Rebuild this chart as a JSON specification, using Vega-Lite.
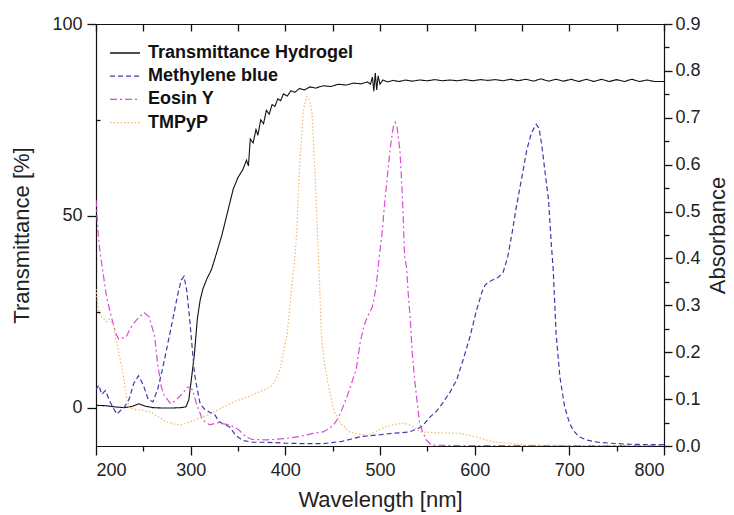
{
  "$schema": "https://vega.github.io/schema/vega-lite/v6.json",
  "autosize": "none",
  "padding": {"left": 96, "top": 24, "right": 70, "bottom": 69},
  "width": 568,
  "height": 422,
  "background": "white",
  "config": {
    "view": {"stroke": "black", "strokeWidth": 1},
    "font": "Liberation Sans",
    "axis": {
      "grid": false,
      "domainColor": "#111",
      "tickColor": "#111",
      "labelColor": "#222",
      "titleColor": "#222",
      "labelFont": "Liberation Sans",
      "titleFont": "Liberation Sans",
      "labelFontSize": 18,
      "titleFontSize": 22,
      "titleFontWeight": "normal",
      "tickWidth": 1.3,
      "domainWidth": 1.2
    },
    "legend": {
      "labelFont": "Liberation Sans",
      "labelFontSize": 18,
      "labelFontWeight": "bold",
      "labelColor": "#111",
      "labelLimit": 400,
      "symbolType": "M-1.36,0H1.36",
      "symbolSize": 484,
      "symbolStrokeWidth": 1.3,
      "labelOffset": 11,
      "rowPadding": 2.2,
      "padding": 0,
      "offset": 17
    }
  },
  "datasets": {
    "spectra": [
      {"series": "Transmittance Hydrogel", "wl": 200, "val": 0.6},
      {"series": "Transmittance Hydrogel", "wl": 210, "val": 0.5},
      {"series": "Transmittance Hydrogel", "wl": 220, "val": 0.2},
      {"series": "Transmittance Hydrogel", "wl": 230, "val": 0.0},
      {"series": "Transmittance Hydrogel", "wl": 238, "val": 0.3},
      {"series": "Transmittance Hydrogel", "wl": 245, "val": 1.0},
      {"series": "Transmittance Hydrogel", "wl": 252, "val": 0.4},
      {"series": "Transmittance Hydrogel", "wl": 260, "val": 0.0},
      {"series": "Transmittance Hydrogel", "wl": 270, "val": -0.1},
      {"series": "Transmittance Hydrogel", "wl": 280, "val": -0.1},
      {"series": "Transmittance Hydrogel", "wl": 290, "val": 0.0},
      {"series": "Transmittance Hydrogel", "wl": 295, "val": 0.2},
      {"series": "Transmittance Hydrogel", "wl": 298, "val": 2.0},
      {"series": "Transmittance Hydrogel", "wl": 300, "val": 5.9},
      {"series": "Transmittance Hydrogel", "wl": 304, "val": 14},
      {"series": "Transmittance Hydrogel", "wl": 307, "val": 23},
      {"series": "Transmittance Hydrogel", "wl": 310, "val": 28},
      {"series": "Transmittance Hydrogel", "wl": 313, "val": 31},
      {"series": "Transmittance Hydrogel", "wl": 317, "val": 33.5},
      {"series": "Transmittance Hydrogel", "wl": 322, "val": 36},
      {"series": "Transmittance Hydrogel", "wl": 327, "val": 40},
      {"series": "Transmittance Hydrogel", "wl": 333, "val": 45},
      {"series": "Transmittance Hydrogel", "wl": 340, "val": 52},
      {"series": "Transmittance Hydrogel", "wl": 345, "val": 57},
      {"series": "Transmittance Hydrogel", "wl": 350, "val": 60},
      {"series": "Transmittance Hydrogel", "wl": 355, "val": 62},
      {"series": "Transmittance Hydrogel", "wl": 359, "val": 64.5},
      {"series": "Transmittance Hydrogel", "wl": 361, "val": 63},
      {"series": "Transmittance Hydrogel", "wl": 363, "val": 70},
      {"series": "Transmittance Hydrogel", "wl": 366, "val": 69},
      {"series": "Transmittance Hydrogel", "wl": 369, "val": 72.5},
      {"series": "Transmittance Hydrogel", "wl": 371, "val": 71},
      {"series": "Transmittance Hydrogel", "wl": 374, "val": 75},
      {"series": "Transmittance Hydrogel", "wl": 377, "val": 74},
      {"series": "Transmittance Hydrogel", "wl": 380, "val": 77.5},
      {"series": "Transmittance Hydrogel", "wl": 383, "val": 76.5},
      {"series": "Transmittance Hydrogel", "wl": 386, "val": 79},
      {"series": "Transmittance Hydrogel", "wl": 389, "val": 78.5},
      {"series": "Transmittance Hydrogel", "wl": 392, "val": 80.5},
      {"series": "Transmittance Hydrogel", "wl": 395, "val": 80},
      {"series": "Transmittance Hydrogel", "wl": 398, "val": 81.8},
      {"series": "Transmittance Hydrogel", "wl": 402, "val": 81.2},
      {"series": "Transmittance Hydrogel", "wl": 406, "val": 82.6},
      {"series": "Transmittance Hydrogel", "wl": 410, "val": 82.2},
      {"series": "Transmittance Hydrogel", "wl": 415, "val": 83.2},
      {"series": "Transmittance Hydrogel", "wl": 420, "val": 82.8},
      {"series": "Transmittance Hydrogel", "wl": 426, "val": 83.6},
      {"series": "Transmittance Hydrogel", "wl": 432, "val": 83.3},
      {"series": "Transmittance Hydrogel", "wl": 440, "val": 83.9},
      {"series": "Transmittance Hydrogel", "wl": 448, "val": 83.7},
      {"series": "Transmittance Hydrogel", "wl": 456, "val": 84.3},
      {"series": "Transmittance Hydrogel", "wl": 464, "val": 84.1},
      {"series": "Transmittance Hydrogel", "wl": 472, "val": 84.6},
      {"series": "Transmittance Hydrogel", "wl": 480, "val": 84.4},
      {"series": "Transmittance Hydrogel", "wl": 487, "val": 84.9},
      {"series": "Transmittance Hydrogel", "wl": 490, "val": 84.3},
      {"series": "Transmittance Hydrogel", "wl": 492, "val": 86.2},
      {"series": "Transmittance Hydrogel", "wl": 493.5, "val": 82.5},
      {"series": "Transmittance Hydrogel", "wl": 495, "val": 87.2},
      {"series": "Transmittance Hydrogel", "wl": 496.5, "val": 82.8},
      {"series": "Transmittance Hydrogel", "wl": 498, "val": 86.5},
      {"series": "Transmittance Hydrogel", "wl": 500, "val": 84.3},
      {"series": "Transmittance Hydrogel", "wl": 503, "val": 85.4},
      {"series": "Transmittance Hydrogel", "wl": 508, "val": 84.9},
      {"series": "Transmittance Hydrogel", "wl": 514, "val": 85.3},
      {"series": "Transmittance Hydrogel", "wl": 520, "val": 85.0},
      {"series": "Transmittance Hydrogel", "wl": 527, "val": 85.4},
      {"series": "Transmittance Hydrogel", "wl": 534, "val": 85.1},
      {"series": "Transmittance Hydrogel", "wl": 542, "val": 85.4},
      {"series": "Transmittance Hydrogel", "wl": 550, "val": 85.2},
      {"series": "Transmittance Hydrogel", "wl": 558, "val": 85.5},
      {"series": "Transmittance Hydrogel", "wl": 566, "val": 85.2},
      {"series": "Transmittance Hydrogel", "wl": 574, "val": 85.4},
      {"series": "Transmittance Hydrogel", "wl": 582, "val": 85.2},
      {"series": "Transmittance Hydrogel", "wl": 590, "val": 85.5},
      {"series": "Transmittance Hydrogel", "wl": 598, "val": 85.2},
      {"series": "Transmittance Hydrogel", "wl": 606, "val": 85.5},
      {"series": "Transmittance Hydrogel", "wl": 614, "val": 85.3},
      {"series": "Transmittance Hydrogel", "wl": 622, "val": 85.5},
      {"series": "Transmittance Hydrogel", "wl": 630, "val": 85.2},
      {"series": "Transmittance Hydrogel", "wl": 638, "val": 85.6},
      {"series": "Transmittance Hydrogel", "wl": 646, "val": 85.2},
      {"series": "Transmittance Hydrogel", "wl": 654, "val": 85.6},
      {"series": "Transmittance Hydrogel", "wl": 662, "val": 85.1},
      {"series": "Transmittance Hydrogel", "wl": 670, "val": 85.7},
      {"series": "Transmittance Hydrogel", "wl": 678, "val": 85.1},
      {"series": "Transmittance Hydrogel", "wl": 686, "val": 85.6},
      {"series": "Transmittance Hydrogel", "wl": 694, "val": 85.1},
      {"series": "Transmittance Hydrogel", "wl": 702, "val": 85.6},
      {"series": "Transmittance Hydrogel", "wl": 710, "val": 85.0},
      {"series": "Transmittance Hydrogel", "wl": 718, "val": 85.6},
      {"series": "Transmittance Hydrogel", "wl": 726, "val": 85.0},
      {"series": "Transmittance Hydrogel", "wl": 734, "val": 85.6},
      {"series": "Transmittance Hydrogel", "wl": 742, "val": 85.0},
      {"series": "Transmittance Hydrogel", "wl": 750, "val": 85.5},
      {"series": "Transmittance Hydrogel", "wl": 758, "val": 85.0},
      {"series": "Transmittance Hydrogel", "wl": 766, "val": 85.6},
      {"series": "Transmittance Hydrogel", "wl": 774, "val": 85.0},
      {"series": "Transmittance Hydrogel", "wl": 782, "val": 85.4},
      {"series": "Transmittance Hydrogel", "wl": 790, "val": 85.0},
      {"series": "Transmittance Hydrogel", "wl": 800, "val": 85.0},

      {"series": "Methylene blue", "wl": 200, "val": 0.12},
      {"series": "Methylene blue", "wl": 203, "val": 0.13},
      {"series": "Methylene blue", "wl": 206, "val": 0.11},
      {"series": "Methylene blue", "wl": 210, "val": 0.118},
      {"series": "Methylene blue", "wl": 214, "val": 0.098},
      {"series": "Methylene blue", "wl": 218, "val": 0.082},
      {"series": "Methylene blue", "wl": 222, "val": 0.068},
      {"series": "Methylene blue", "wl": 226, "val": 0.076},
      {"series": "Methylene blue", "wl": 230, "val": 0.083},
      {"series": "Methylene blue", "wl": 235, "val": 0.1},
      {"series": "Methylene blue", "wl": 240, "val": 0.134},
      {"series": "Methylene blue", "wl": 245, "val": 0.15},
      {"series": "Methylene blue", "wl": 250, "val": 0.13},
      {"series": "Methylene blue", "wl": 255, "val": 0.1},
      {"series": "Methylene blue", "wl": 260, "val": 0.094},
      {"series": "Methylene blue", "wl": 265, "val": 0.12},
      {"series": "Methylene blue", "wl": 270, "val": 0.162},
      {"series": "Methylene blue", "wl": 275, "val": 0.21},
      {"series": "Methylene blue", "wl": 281, "val": 0.269},
      {"series": "Methylene blue", "wl": 286, "val": 0.32},
      {"series": "Methylene blue", "wl": 290, "val": 0.354},
      {"series": "Methylene blue", "wl": 293, "val": 0.362},
      {"series": "Methylene blue", "wl": 296, "val": 0.33},
      {"series": "Methylene blue", "wl": 299, "val": 0.269},
      {"series": "Methylene blue", "wl": 302, "val": 0.2},
      {"series": "Methylene blue", "wl": 304, "val": 0.156},
      {"series": "Methylene blue", "wl": 307, "val": 0.12},
      {"series": "Methylene blue", "wl": 310, "val": 0.09},
      {"series": "Methylene blue", "wl": 315, "val": 0.078},
      {"series": "Methylene blue", "wl": 320, "val": 0.072},
      {"series": "Methylene blue", "wl": 325, "val": 0.068},
      {"series": "Methylene blue", "wl": 330, "val": 0.052},
      {"series": "Methylene blue", "wl": 335, "val": 0.046},
      {"series": "Methylene blue", "wl": 341, "val": 0.041},
      {"series": "Methylene blue", "wl": 348, "val": 0.022},
      {"series": "Methylene blue", "wl": 355, "val": 0.012},
      {"series": "Methylene blue", "wl": 365, "val": 0.008},
      {"series": "Methylene blue", "wl": 380, "val": 0.008},
      {"series": "Methylene blue", "wl": 400, "val": 0.006},
      {"series": "Methylene blue", "wl": 420, "val": 0.005},
      {"series": "Methylene blue", "wl": 440, "val": 0.005},
      {"series": "Methylene blue", "wl": 460, "val": 0.01},
      {"series": "Methylene blue", "wl": 470, "val": 0.015},
      {"series": "Methylene blue", "wl": 480, "val": 0.02},
      {"series": "Methylene blue", "wl": 490, "val": 0.022},
      {"series": "Methylene blue", "wl": 500, "val": 0.024},
      {"series": "Methylene blue", "wl": 513, "val": 0.027},
      {"series": "Methylene blue", "wl": 522, "val": 0.028},
      {"series": "Methylene blue", "wl": 531, "val": 0.03},
      {"series": "Methylene blue", "wl": 540, "val": 0.037},
      {"series": "Methylene blue", "wl": 545, "val": 0.043},
      {"series": "Methylene blue", "wl": 553, "val": 0.062},
      {"series": "Methylene blue", "wl": 560, "val": 0.075},
      {"series": "Methylene blue", "wl": 566, "val": 0.091},
      {"series": "Methylene blue", "wl": 574, "val": 0.115},
      {"series": "Methylene blue", "wl": 581, "val": 0.141},
      {"series": "Methylene blue", "wl": 588, "val": 0.185},
      {"series": "Methylene blue", "wl": 595, "val": 0.233},
      {"series": "Methylene blue", "wl": 602, "val": 0.29},
      {"series": "Methylene blue", "wl": 608, "val": 0.33},
      {"series": "Methylene blue", "wl": 611, "val": 0.343},
      {"series": "Methylene blue", "wl": 615, "val": 0.35},
      {"series": "Methylene blue", "wl": 620, "val": 0.355},
      {"series": "Methylene blue", "wl": 625, "val": 0.36},
      {"series": "Methylene blue", "wl": 630, "val": 0.37},
      {"series": "Methylene blue", "wl": 635, "val": 0.404},
      {"series": "Methylene blue", "wl": 640, "val": 0.46},
      {"series": "Methylene blue", "wl": 644, "val": 0.51},
      {"series": "Methylene blue", "wl": 650, "val": 0.575},
      {"series": "Methylene blue", "wl": 655, "val": 0.631},
      {"series": "Methylene blue", "wl": 660, "val": 0.668},
      {"series": "Methylene blue", "wl": 665, "val": 0.686},
      {"series": "Methylene blue", "wl": 668, "val": 0.678},
      {"series": "Methylene blue", "wl": 671, "val": 0.64},
      {"series": "Methylene blue", "wl": 674, "val": 0.59},
      {"series": "Methylene blue", "wl": 678, "val": 0.525},
      {"series": "Methylene blue", "wl": 681, "val": 0.43},
      {"series": "Methylene blue", "wl": 683, "val": 0.375},
      {"series": "Methylene blue", "wl": 686, "val": 0.24},
      {"series": "Methylene blue", "wl": 690, "val": 0.148},
      {"series": "Methylene blue", "wl": 695, "val": 0.084},
      {"series": "Methylene blue", "wl": 700, "val": 0.05},
      {"series": "Methylene blue", "wl": 704, "val": 0.034},
      {"series": "Methylene blue", "wl": 710, "val": 0.02},
      {"series": "Methylene blue", "wl": 718, "val": 0.013},
      {"series": "Methylene blue", "wl": 730, "val": 0.008},
      {"series": "Methylene blue", "wl": 743, "val": 0.006},
      {"series": "Methylene blue", "wl": 760, "val": 0.004},
      {"series": "Methylene blue", "wl": 780, "val": 0.003},
      {"series": "Methylene blue", "wl": 800, "val": 0.003},

      {"series": "Eosin Y", "wl": 200, "val": 0.525},
      {"series": "Eosin Y", "wl": 202, "val": 0.46},
      {"series": "Eosin Y", "wl": 204, "val": 0.418},
      {"series": "Eosin Y", "wl": 207, "val": 0.375},
      {"series": "Eosin Y", "wl": 211, "val": 0.32},
      {"series": "Eosin Y", "wl": 215, "val": 0.285},
      {"series": "Eosin Y", "wl": 218, "val": 0.262},
      {"series": "Eosin Y", "wl": 221, "val": 0.24},
      {"series": "Eosin Y", "wl": 224, "val": 0.228},
      {"series": "Eosin Y", "wl": 228, "val": 0.23},
      {"series": "Eosin Y", "wl": 232, "val": 0.233},
      {"series": "Eosin Y", "wl": 236, "val": 0.25},
      {"series": "Eosin Y", "wl": 240, "val": 0.262},
      {"series": "Eosin Y", "wl": 245, "val": 0.274},
      {"series": "Eosin Y", "wl": 251, "val": 0.284},
      {"series": "Eosin Y", "wl": 256, "val": 0.276},
      {"series": "Eosin Y", "wl": 259, "val": 0.255},
      {"series": "Eosin Y", "wl": 262, "val": 0.233},
      {"series": "Eosin Y", "wl": 265, "val": 0.177},
      {"series": "Eosin Y", "wl": 269, "val": 0.126},
      {"series": "Eosin Y", "wl": 272, "val": 0.108},
      {"series": "Eosin Y", "wl": 276, "val": 0.098},
      {"series": "Eosin Y", "wl": 279, "val": 0.09},
      {"series": "Eosin Y", "wl": 284, "val": 0.097},
      {"series": "Eosin Y", "wl": 288, "val": 0.105},
      {"series": "Eosin Y", "wl": 293, "val": 0.116},
      {"series": "Eosin Y", "wl": 297, "val": 0.126},
      {"series": "Eosin Y", "wl": 302, "val": 0.12},
      {"series": "Eosin Y", "wl": 307, "val": 0.084},
      {"series": "Eosin Y", "wl": 313, "val": 0.055},
      {"series": "Eosin Y", "wl": 320, "val": 0.045},
      {"series": "Eosin Y", "wl": 325, "val": 0.048},
      {"series": "Eosin Y", "wl": 330, "val": 0.05},
      {"series": "Eosin Y", "wl": 335, "val": 0.047},
      {"series": "Eosin Y", "wl": 341, "val": 0.045},
      {"series": "Eosin Y", "wl": 346, "val": 0.04},
      {"series": "Eosin Y", "wl": 351, "val": 0.034},
      {"series": "Eosin Y", "wl": 358, "val": 0.02},
      {"series": "Eosin Y", "wl": 365, "val": 0.014},
      {"series": "Eosin Y", "wl": 380, "val": 0.013},
      {"series": "Eosin Y", "wl": 400, "val": 0.016},
      {"series": "Eosin Y", "wl": 415, "val": 0.02},
      {"series": "Eosin Y", "wl": 429, "val": 0.027},
      {"series": "Eosin Y", "wl": 440, "val": 0.03},
      {"series": "Eosin Y", "wl": 446, "val": 0.037},
      {"series": "Eosin Y", "wl": 451, "val": 0.045},
      {"series": "Eosin Y", "wl": 456, "val": 0.06},
      {"series": "Eosin Y", "wl": 461, "val": 0.084},
      {"series": "Eosin Y", "wl": 466, "val": 0.11},
      {"series": "Eosin Y", "wl": 471, "val": 0.14},
      {"series": "Eosin Y", "wl": 475, "val": 0.165},
      {"series": "Eosin Y", "wl": 479, "val": 0.22},
      {"series": "Eosin Y", "wl": 483, "val": 0.256},
      {"series": "Eosin Y", "wl": 487, "val": 0.277},
      {"series": "Eosin Y", "wl": 492, "val": 0.297},
      {"series": "Eosin Y", "wl": 496, "val": 0.34},
      {"series": "Eosin Y", "wl": 499, "val": 0.4},
      {"series": "Eosin Y", "wl": 502, "val": 0.45},
      {"series": "Eosin Y", "wl": 505, "val": 0.52},
      {"series": "Eosin Y", "wl": 507, "val": 0.56},
      {"series": "Eosin Y", "wl": 510, "val": 0.62},
      {"series": "Eosin Y", "wl": 512, "val": 0.652},
      {"series": "Eosin Y", "wl": 514, "val": 0.68},
      {"series": "Eosin Y", "wl": 516, "val": 0.69},
      {"series": "Eosin Y", "wl": 518, "val": 0.68},
      {"series": "Eosin Y", "wl": 521, "val": 0.631},
      {"series": "Eosin Y", "wl": 523, "val": 0.56},
      {"series": "Eosin Y", "wl": 524.5, "val": 0.489},
      {"series": "Eosin Y", "wl": 526, "val": 0.404},
      {"series": "Eosin Y", "wl": 528, "val": 0.382},
      {"series": "Eosin Y", "wl": 530, "val": 0.32},
      {"series": "Eosin Y", "wl": 532, "val": 0.27},
      {"series": "Eosin Y", "wl": 534, "val": 0.2},
      {"series": "Eosin Y", "wl": 537, "val": 0.134},
      {"series": "Eosin Y", "wl": 540, "val": 0.08},
      {"series": "Eosin Y", "wl": 542, "val": 0.048},
      {"series": "Eosin Y", "wl": 545, "val": 0.03},
      {"series": "Eosin Y", "wl": 549, "val": 0.013},
      {"series": "Eosin Y", "wl": 554, "val": 0.002},
      {"series": "Eosin Y", "wl": 575, "val": 0.001},
      {"series": "Eosin Y", "wl": 620, "val": 0.001},
      {"series": "Eosin Y", "wl": 700, "val": 0.001},
      {"series": "Eosin Y", "wl": 800, "val": 0.001},

      {"series": "TMPyP", "wl": 200, "val": 0.335},
      {"series": "TMPyP", "wl": 202, "val": 0.3},
      {"series": "TMPyP", "wl": 204, "val": 0.28},
      {"series": "TMPyP", "wl": 208, "val": 0.272},
      {"series": "TMPyP", "wl": 211, "val": 0.265},
      {"series": "TMPyP", "wl": 214, "val": 0.27},
      {"series": "TMPyP", "wl": 218, "val": 0.26},
      {"series": "TMPyP", "wl": 222, "val": 0.22},
      {"series": "TMPyP", "wl": 225, "val": 0.19},
      {"series": "TMPyP", "wl": 228, "val": 0.162},
      {"series": "TMPyP", "wl": 232, "val": 0.105},
      {"series": "TMPyP", "wl": 235, "val": 0.082},
      {"series": "TMPyP", "wl": 241, "val": 0.078},
      {"series": "TMPyP", "wl": 250, "val": 0.076},
      {"series": "TMPyP", "wl": 258, "val": 0.072},
      {"series": "TMPyP", "wl": 266, "val": 0.062},
      {"series": "TMPyP", "wl": 274, "val": 0.052},
      {"series": "TMPyP", "wl": 282, "val": 0.047},
      {"series": "TMPyP", "wl": 290, "val": 0.045},
      {"series": "TMPyP", "wl": 297, "val": 0.05},
      {"series": "TMPyP", "wl": 304, "val": 0.055},
      {"series": "TMPyP", "wl": 311, "val": 0.061},
      {"series": "TMPyP", "wl": 318, "val": 0.066},
      {"series": "TMPyP", "wl": 328, "val": 0.076},
      {"series": "TMPyP", "wl": 338, "val": 0.087},
      {"series": "TMPyP", "wl": 348, "val": 0.096},
      {"series": "TMPyP", "wl": 358, "val": 0.103},
      {"series": "TMPyP", "wl": 368, "val": 0.112},
      {"series": "TMPyP", "wl": 377, "val": 0.119},
      {"series": "TMPyP", "wl": 383, "val": 0.125},
      {"series": "TMPyP", "wl": 388, "val": 0.134},
      {"series": "TMPyP", "wl": 392, "val": 0.15},
      {"series": "TMPyP", "wl": 395, "val": 0.169},
      {"series": "TMPyP", "wl": 398, "val": 0.2},
      {"series": "TMPyP", "wl": 402, "val": 0.24},
      {"series": "TMPyP", "wl": 405, "val": 0.3},
      {"series": "TMPyP", "wl": 407, "val": 0.348},
      {"series": "TMPyP", "wl": 410, "val": 0.4},
      {"series": "TMPyP", "wl": 412, "val": 0.454},
      {"series": "TMPyP", "wl": 415, "val": 0.595},
      {"series": "TMPyP", "wl": 419, "val": 0.716},
      {"series": "TMPyP", "wl": 422.5, "val": 0.745},
      {"series": "TMPyP", "wl": 425, "val": 0.74},
      {"series": "TMPyP", "wl": 428, "val": 0.716},
      {"series": "TMPyP", "wl": 431, "val": 0.595},
      {"series": "TMPyP", "wl": 433, "val": 0.5},
      {"series": "TMPyP", "wl": 435, "val": 0.4},
      {"series": "TMPyP", "wl": 436.5, "val": 0.33},
      {"series": "TMPyP", "wl": 438, "val": 0.24},
      {"series": "TMPyP", "wl": 441, "val": 0.18},
      {"series": "TMPyP", "wl": 445, "val": 0.134},
      {"series": "TMPyP", "wl": 451, "val": 0.077},
      {"series": "TMPyP", "wl": 458, "val": 0.049},
      {"series": "TMPyP", "wl": 468, "val": 0.03},
      {"series": "TMPyP", "wl": 478, "val": 0.025},
      {"series": "TMPyP", "wl": 486, "val": 0.023},
      {"series": "TMPyP", "wl": 495, "val": 0.03},
      {"series": "TMPyP", "wl": 505, "val": 0.04},
      {"series": "TMPyP", "wl": 513, "val": 0.045},
      {"series": "TMPyP", "wl": 525, "val": 0.049},
      {"series": "TMPyP", "wl": 535, "val": 0.042},
      {"series": "TMPyP", "wl": 542, "val": 0.03},
      {"series": "TMPyP", "wl": 560, "val": 0.028},
      {"series": "TMPyP", "wl": 585, "val": 0.027},
      {"series": "TMPyP", "wl": 600, "val": 0.02},
      {"series": "TMPyP", "wl": 619, "val": 0.009},
      {"series": "TMPyP", "wl": 640, "val": 0.005},
      {"series": "TMPyP", "wl": 655, "val": 0.002},
      {"series": "TMPyP", "wl": 700, "val": 0.001},
      {"series": "TMPyP", "wl": 800, "val": 0.001}
    ]
  },
  "data": {"name": "spectra"},
  "layer": [
    {
      "transform": [{"filter": "datum.series === 'Transmittance Hydrogel'"}],
      "mark": {"type": "line", "strokeWidth": 1.1, "clip": true},
      "encoding": {
        "x": {
          "field": "wl", "type": "quantitative",
          "scale": {"domain": [200, 800], "nice": false, "zero": false},
          "axis": {
            "orient": "bottom",
            "title": "Wavelength [nm]",
            "values": [200, 300, 400, 500, 600, 700, 800],
            "tickSize": 9,
            "labelPadding": 6,
            "titlePadding": 10
          }
        },
        "y": {
          "field": "val", "type": "quantitative",
          "scale": {"domain": [-10, 100], "nice": false, "zero": false},
          "axis": {
            "orient": "left",
            "title": "Transmittance [%]",
            "values": [0, 50, 100],
            "tickSize": 9,
            "labelPadding": 5,
            "titlePadding": 18
          }
        },
        "order": {"field": "wl", "type": "quantitative"},
        "color": {
          "field": "series", "type": "nominal",
          "scale": {
            "domain": ["Transmittance Hydrogel", "Methylene blue", "Eosin Y", "TMPyP"],
            "range": ["#111111", "#3c3ca8", "#d84cd8", "#f2b76e"]
          },
          "legend": {"title": null, "orient": "top-left"}
        },
        "strokeDash": {
          "field": "series", "type": "nominal",
          "scale": {
            "domain": ["Transmittance Hydrogel", "Methylene blue", "Eosin Y", "TMPyP"],
            "range": [[1, 0], [5, 3], [7, 3, 2, 3], [1.5, 2]]
          },
          "legend": {"title": null, "orient": "top-left"}
        }
      }
    },
    {
      "transform": [{"filter": "datum.series !== 'Transmittance Hydrogel'"}],
      "mark": {"type": "line", "strokeWidth": 1.2, "clip": true},
      "encoding": {
        "x": {
          "field": "wl", "type": "quantitative",
          "scale": {"domain": [200, 800], "nice": false, "zero": false},
          "axis": {
            "orient": "top",
            "title": null,
            "labels": false,
            "values": [200, 250, 300, 350, 400, 450, 500, 550, 600, 650, 700, 750, 800],
            "tickSize": -7
          }
        },
        "y": {
          "field": "val", "type": "quantitative",
          "scale": {"domain": [0, 0.9], "nice": false, "zero": false},
          "axis": {
            "orient": "right",
            "title": "Absorbance",
            "titleAngle": 270,
            "titleBaseline": "top",
            "values": [0, 0.1, 0.2, 0.3, 0.4, 0.5, 0.6, 0.7, 0.8, 0.9],
            "format": ".1f",
            "tickSize": 8,
            "labelPadding": 3,
            "titlePadding": 7
          }
        },
        "order": {"field": "wl", "type": "quantitative"},
        "color": {"field": "series", "type": "nominal"},
        "strokeDash": {"field": "series", "type": "nominal"}
      }
    },
    {
      "transform": [{"filter": "false"}],
      "mark": {"type": "line"},
      "encoding": {
        "x": {
          "field": "wl", "type": "quantitative",
          "scale": {"domain": [200, 800], "nice": false, "zero": false},
          "axis": {
            "orient": "bottom",
            "title": null,
            "labels": false,
            "domain": false,
            "values": [250, 350, 450, 550, 650, 750],
            "tickSize": 5
          }
        },
        "y": {
          "field": "val", "type": "quantitative",
          "scale": {"domain": [-10, 100], "nice": false, "zero": false},
          "axis": {
            "orient": "left",
            "title": null,
            "labels": false,
            "domain": false,
            "values": [25, 75],
            "tickSize": -4
          }
        }
      }
    },
    {
      "transform": [{"filter": "false"}],
      "mark": {"type": "line"},
      "encoding": {
        "x": {
          "field": "wl", "type": "quantitative",
          "scale": {"domain": [200, 800], "nice": false, "zero": false},
          "axis": null
        },
        "y": {
          "field": "val", "type": "quantitative",
          "scale": {"domain": [0, 0.9], "nice": false, "zero": false},
          "axis": {
            "orient": "right",
            "title": null,
            "labels": false,
            "domain": false,
            "values": [0.05, 0.15, 0.25, 0.35, 0.45, 0.55, 0.65, 0.75, 0.85],
            "tickSize": 5
          }
        }
      }
    }
  ],
  "resolve": {"scale": {"y": "independent"}, "axis": {"x": "independent"}}
}
